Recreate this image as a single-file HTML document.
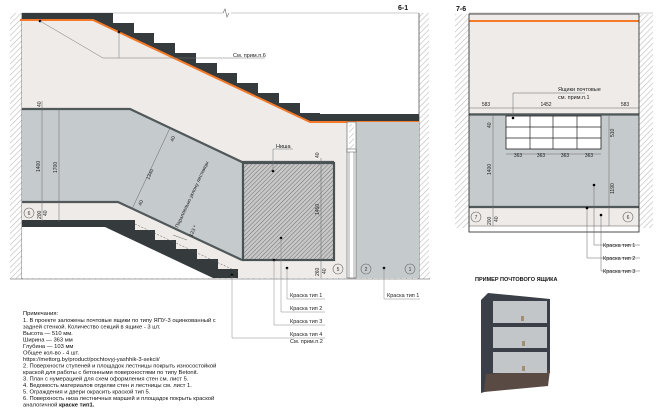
<!DOCTYPE html>
<html><head><meta charset="utf-8"><style>
html,body{margin:0;padding:0;background:#fff;}
svg{display:block;font-family:"Liberation Sans",sans-serif;}
.t{font-size:5.5px;fill:#222;}
.n{font-size:5.8px;fill:#111;}
</style></head><body>
<svg width="670" height="414" viewBox="0 0 670 414" xmlns="http://www.w3.org/2000/svg">
<defs>
<pattern id="h" width="4" height="4" patternUnits="userSpaceOnUse" patternTransform="rotate(45)">
<rect width="4" height="4" fill="#fff"/><line x1="0" y1="0" x2="0" y2="4" stroke="#bbb" stroke-width="1.2"/></pattern>
<pattern id="h2" width="3" height="3" patternUnits="userSpaceOnUse" patternTransform="rotate(45)">
<rect width="3" height="3" fill="#c8c8c8"/><line x1="0" y1="0" x2="0" y2="3" stroke="#666" stroke-width="0.9"/></pattern>
</defs>

<!-- LEFT DRAWING -->
<rect x="10" y="13" width="12" height="266" fill="url(#h)"/>
<rect x="419" y="13" width="10" height="266" fill="url(#h)"/>
<rect x="10" y="270" width="420" height="9" fill="url(#h)"/>
<line x1="10" y1="279" x2="430" y2="279" stroke="#888" stroke-width="0.8"/>
<line x1="22" y1="13" x2="22" y2="279" stroke="#555" stroke-width="0.8"/>
<line x1="419" y1="13" x2="419" y2="279" stroke="#555" stroke-width="0.8"/>
<line x1="22" y1="13" x2="223" y2="13" stroke="#999" stroke-width="0.6"/>
<line x1="231" y1="13" x2="419" y2="13" stroke="#999" stroke-width="0.6"/>
<path d="M223,13 l2,-4 l2,8 l2,-4" fill="none" stroke="#666" stroke-width="0.6"/>
<text x="398" y="10" font-size="7" font-weight="bold" fill="#111">6-1</text>

<polygon points="22,20 93,20 310,122 347,122 347,278 22,278" fill="#eeebe8"/>
<polygon points="22,13 113,13 113,23 134,23 134,33 154,33 154,43 175,43 175,53 196,53 196,63 217,63 217,73 237,73 237,83 258,83 258,93 279,93 279,103 300,103 300,113 320,113 320,114 419,114 419,122 310,122 93,20 22,20" fill="#353a3c"/>
<polyline points="20,20 93,20 310,122 419,122" fill="none" stroke="#f47a2a" stroke-width="2"/>

<polygon points="22,109 130,109 242,162 242,260 118,202 22,202" fill="#c5cacc"/>
<polyline points="22,109 130,109 242,162 334,162" fill="none" stroke="#50585a" stroke-width="2.2"/>
<polyline points="22,202 118,202 242,260" fill="none" stroke="#50585a" stroke-width="2.2"/>
<rect x="356" y="122" width="63" height="156" fill="#c5cacc"/>
<rect x="347" y="122" width="9" height="156" fill="#fff" stroke="#555" stroke-width="0.6"/>
<rect x="349" y="124" width="5" height="26" fill="url(#h)"/>
<line x1="349" y1="152" x2="349" y2="278" stroke="#555" stroke-width="0.5"/>
<line x1="354" y1="152" x2="354" y2="278" stroke="#555" stroke-width="0.5"/>
<rect x="347" y="149" width="9" height="3" fill="#fff" stroke="#555" stroke-width="0.5"/>

<rect x="243" y="163" width="91" height="97" fill="url(#h2)" stroke="#4a5254" stroke-width="2.2"/>

<polygon points="22,220 105,220 213,278 22,278" fill="#fff"/>
<polygon points="22,220 135,220 135,230 155,230 155,240 176,240 176,249 197,249 197,259 218,259 218,269 238,269 238,278 213,278 105,227 22,227" fill="#353a3c"/>
<line x1="135" y1="224" x2="238" y2="272" stroke="#555" stroke-width="0.5" stroke-dasharray="2,1.5"/>

<circle cx="40" cy="21" r="1.3" fill="#000"/>
<circle cx="119" cy="32" r="1.3" fill="#000"/>
<polyline points="40,21 103,58 265,58" fill="none" stroke="#777" stroke-width="0.5"/>
<line x1="119" y1="32" x2="119" y2="58" stroke="#777" stroke-width="0.5"/>
<text x="233" y="57" class="t">См. прим.п.6</text>
<circle cx="273" cy="171" r="1.3" fill="#000"/>
<polyline points="273,171 273,149 293,149" fill="none" stroke="#777" stroke-width="0.5"/>
<text x="276" y="148" class="t">Ниша</text>

<g stroke="#666" stroke-width="0.5">
<line x1="42" y1="101" x2="42" y2="222"/><line x1="59" y1="109" x2="59" y2="222"/>
<line x1="170" y1="128" x2="132" y2="209"/>
<line x1="321" y1="158" x2="321" y2="278"/>
<line x1="173" y1="235" x2="187" y2="240"/>
</g>
<g font-size="5" fill="#222">
<text transform="translate(40,172) rotate(-90)">1400</text>
<text transform="translate(57,173) rotate(-90)">1700</text>
<text transform="translate(41,107) rotate(-90)">40</text>
<text transform="translate(41,219) rotate(-90)">200</text>
<text transform="translate(47,216) rotate(-90)">40</text>
<text transform="translate(149,180) rotate(-65)">1340</text>
<text transform="translate(173,142) rotate(-65)">40</text>
<text transform="translate(141,206) rotate(-65)">40</text>
<text transform="translate(178,228) rotate(-65)">Параллельно уклону лестницы</text>
<text transform="translate(192,237) rotate(-65)">123 *</text>
<text transform="translate(319,215) rotate(-90)">1450</text>
<text transform="translate(319,158) rotate(-90)">40</text>
<text transform="translate(319,276) rotate(-90)">260</text>
<text transform="translate(326,274) rotate(-90)">40</text>
</g>
<g fill="none" stroke="#666" stroke-width="0.6">
<circle cx="29" cy="213" r="5"/><circle cx="338" cy="269" r="5"/>
<circle cx="366" cy="269" r="5"/><circle cx="410" cy="269" r="5"/>
</g>
<g font-size="5" fill="#333" text-anchor="middle">
<text x="29" y="215">6</text><text x="338" y="271">5</text><text x="366" y="271">2</text><text x="410" y="271">1</text>
</g>

<circle cx="281" cy="238" r="1.3" fill="#000"/>
<circle cx="274" cy="260" r="1.3" fill="#000"/>
<circle cx="287" cy="268" r="1.3" fill="#000"/>
<circle cx="232" cy="275" r="1.3" fill="#000"/>
<circle cx="384" cy="268" r="1.3" fill="#000"/>
<g fill="none" stroke="#888" stroke-width="0.5">
<polyline points="287,268 287,299 325,299"/>
<polyline points="281,238 281,312 325,312"/>
<polyline points="274,260 274,325 325,325"/>
<polyline points="232,275 232,338 325,338"/>
<polyline points="384,268 384,299 420,299"/>
</g>
<text x="290" y="297" class="t">Краска тип 1</text>
<text x="290" y="310" class="t">Краска тип 2</text>
<text x="290" y="323" class="t">Краска тип 3</text>
<text x="290" y="336" class="t">Краска тип 4</text>
<text x="290" y="343" class="t">См. прим.п.2</text>
<text x="387" y="297" class="t">Краска тип 1</text>

<g class="n">
<text x="23" y="315">Примечания:</text>
<text x="23" y="322">1. В проекте заложены почтовые ящики по типу ЯПУ-3 оцинкованный с</text>
<text x="23" y="328.5">задней стенкой. Количество секций в ящике - 3 шт.</text>
<text x="23" y="335">Высота — 510 мм.</text>
<text x="23" y="341.5">Ширина — 363 мм</text>
<text x="23" y="348">Глубина — 103 мм</text>
<text x="23" y="354.5">Общее кол-во - 4 шт.</text>
<text x="23" y="361">https://mettorg.by/product/pochtovyj-yashhik-3-sekcii/</text>
<text x="23" y="367.5">2. Поверхности ступеней и площадок лестницы покрыть износостойкой</text>
<text x="23" y="374">краской для работы с бетонными поверхностями по типу Betonit.</text>
<text x="23" y="380.5">3. План с нумерацией для схем оформления стен см. лист 5.</text>
<text x="23" y="387">4. Ведомость материалов отделки стен и лестницы см. лист 1.</text>
<text x="23" y="393.5">5. Ограждения и двери окрасить краской тип 5.</text>
<text x="23" y="400">6. Поверхность низа лестничных маршей и площадок покрыть краской</text>
<text x="23" y="406.5">аналогичной <tspan font-weight="bold">краске тип1.</tspan></text>
</g>

<!-- RIGHT DRAWING -->
<text x="456" y="11" font-size="7" font-weight="bold" fill="#111">7-6</text>
<rect x="455" y="14" width="14" height="214" fill="url(#h)"/>
<rect x="639" y="14" width="14" height="214" fill="url(#h)"/>
<rect x="469" y="14" width="170" height="218" fill="#eeebe8"/>
<line x1="469" y1="13" x2="653" y2="13" stroke="#999" stroke-width="0.6"/>
<line x1="469" y1="21" x2="639" y2="21" stroke="#f47a2a" stroke-width="2"/>
<rect x="469" y="113" width="170" height="95" fill="#c5cacc"/>
<line x1="469" y1="114.5" x2="639" y2="114.5" stroke="#50585a" stroke-width="2.2"/>
<line x1="469" y1="207" x2="639" y2="207" stroke="#50585a" stroke-width="2.2"/>
<rect x="469" y="226" width="170" height="6" fill="#fff"/>
<line x1="469" y1="226" x2="639" y2="226" stroke="#555" stroke-width="0.6"/>
<rect x="469" y="14" width="170" height="218" fill="none" stroke="#222" stroke-width="0.8"/>
<rect x="506" y="116" width="95" height="33" fill="#fff" stroke="#222" stroke-width="0.8"/>
<g stroke="#222" stroke-width="0.7">
<line x1="530" y1="116" x2="530" y2="149"/><line x1="553" y1="116" x2="553" y2="149"/><line x1="577" y1="116" x2="577" y2="149"/>
<line x1="506" y1="127" x2="601" y2="127"/><line x1="506" y1="138" x2="601" y2="138"/>
</g>
<g stroke="#666" stroke-width="0.5" fill="none">
<line x1="469" y1="108" x2="639" y2="108"/>
<line x1="506" y1="154" x2="601" y2="154"/>
<line x1="493" y1="113" x2="493" y2="226"/>
<line x1="609" y1="116" x2="609" y2="226"/>
<polyline points="513,118 513,93 585,93"/>
<polyline points="594,185 594,245 640,245"/>
<polyline points="587,208 587,258 640,258"/>
<polyline points="601,215 601,271 640,271"/>
</g>
<circle cx="513" cy="118" r="1.3" fill="#000"/>
<circle cx="594" cy="185" r="1.3" fill="#000"/>
<circle cx="587" cy="208" r="1.3" fill="#000"/>
<circle cx="601" cy="215" r="1.3" fill="#000"/>
<text x="558" y="91" class="t">Ящики почтовые</text>
<text x="558" y="99" class="t">см. прим.п.1</text>
<g font-size="5" fill="#222" text-anchor="middle">
<text x="486" y="106">583</text><text x="546" y="106">1452</text><text x="625" y="106">583</text>
<text x="518" y="157">363</text><text x="541" y="157">363</text><text x="565" y="157">363</text><text x="589" y="157">363</text>
</g>
<g font-size="5" fill="#222">
<text transform="translate(491,128) rotate(-90)">40</text>
<text transform="translate(491,175) rotate(-90)">1400</text>
<text transform="translate(614,137) rotate(-90)">510</text>
<text transform="translate(614,194) rotate(-90)">1190</text>
<text transform="translate(491,225) rotate(-90)">200</text>
<text transform="translate(498,222) rotate(-90)">40</text>
</g>
<circle cx="476" cy="217" r="5" fill="none" stroke="#666" stroke-width="0.6"/>
<circle cx="628" cy="217" r="5" fill="none" stroke="#666" stroke-width="0.6"/>
<text x="476" y="219" font-size="5" text-anchor="middle" fill="#333">7</text>
<text x="628" y="219" font-size="5" text-anchor="middle" fill="#333">6</text>
<text x="603" y="247" class="t">Краска тип 1</text>
<text x="603" y="260" class="t">Краска тип 2</text>
<text x="603" y="273" class="t">Краска тип 3</text>

<text x="475" y="281" font-size="5.5" font-weight="bold" fill="#111">ПРИМЕР ПОЧТОВОГО ЯЩИКА</text>
<polygon points="481,300 488,293 550,299 550,373 481,393" fill="#3b3f47"/>
<polygon points="486,374 550,370 548,386 484,392" fill="#5a4a44"/>
<rect x="493" y="301" width="54" height="22" fill="#c3c6c9"/>
<rect x="493" y="327" width="54" height="21" fill="#c3c6c9"/>
<rect x="493" y="352" width="54" height="21" fill="#c3c6c9"/>
<rect x="521" y="316" width="3" height="5" fill="#a08f70"/>
<rect x="522" y="341" width="3" height="5" fill="#a08f70"/>
<rect x="522" y="366" width="3" height="5" fill="#a08f70"/>
</svg>
</body></html>
